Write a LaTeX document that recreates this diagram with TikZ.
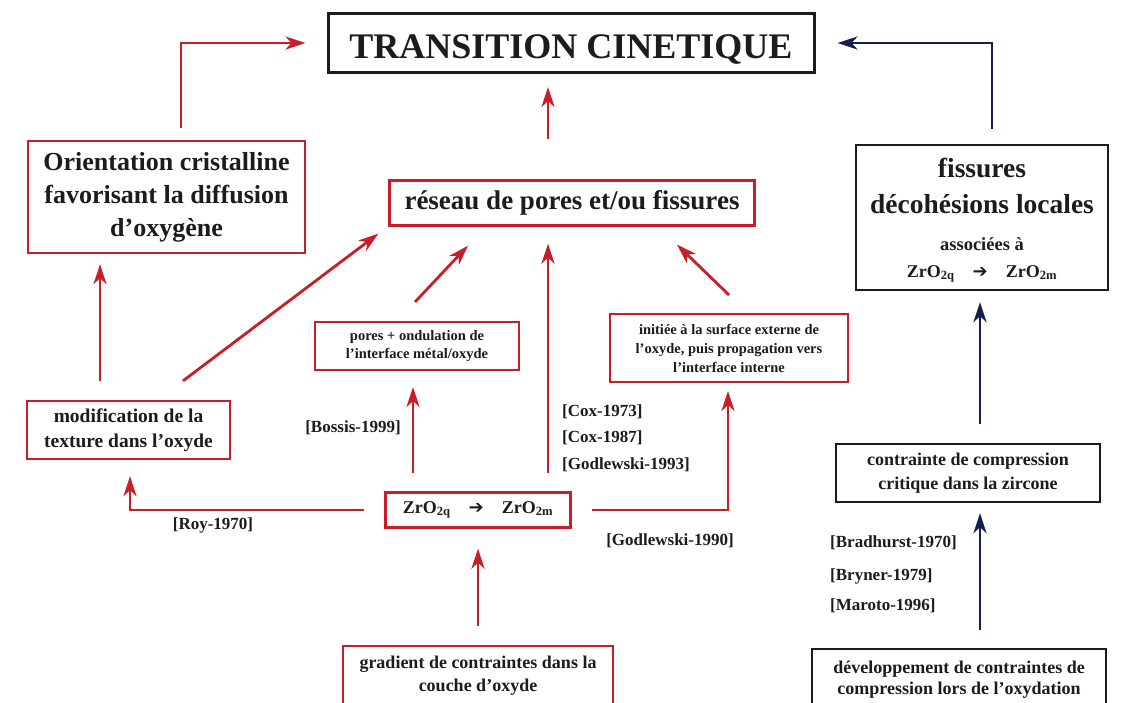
\documentclass[tikz,border=0pt]{standalone}
\usepackage{fontspec}
\setmainfont{Liberation Serif}
\newfontfamily\symfont{DejaVu Sans}
\usetikzlibrary{arrows.meta,calc}
\definecolor{redc}{RGB}{200,30,42}
\definecolor{navyc}{RGB}{22,30,78}
\definecolor{inkc}{RGB}{28,28,28}
\newcommand{\fs}[2]{\fontsize{#1}{#2}\selectfont}
\newcommand{\zrq}{ZrO\textsubscript{2q}}
\newcommand{\zrm}{ZrO\textsubscript{2m}}
\newcommand{\arr}{{\symfont\bfseries ➔}}
\tikzset{
  rbox/.style={draw=redc, line width=2.3pt, align=center, inner sep=0pt, text=inkc},
  kbox/.style={draw=inkc, line width=2.3pt, align=center, inner sep=0pt, text=inkc},
  lab/.style={text=inkc, inner sep=0pt, font=\bfseries\fs{17}{20}},
  ra/.style={draw=redc, line width=2.8pt, -{Stealth[length=20pt,width=13pt,inset=6pt]}},
  ba/.style={draw=navyc, line width=2.8pt, -{Stealth[length=20pt,width=13pt,inset=6pt]}}
}
\begin{document}
\begin{tikzpicture}[x=1pt,y=-1pt]
\useasboundingbox (0,0) rectangle (1124,702);
\fill[white] (0,0) rectangle (1124,702);

% boxes
\node[kbox, line width=3pt, minimum width=486pt, minimum height=59pt, text height=35pt, text depth=5pt, font=\bfseries\fs{36}{40}] (title) at (571,43) {TRANSITION CINETIQUE};
\node[rbox, minimum width=277pt, minimum height=112pt, font=\bfseries\fs{26}{33}] (orient) at (166.5,197) {Orientation cristalline\\favorisant la diffusion\\d’oxygène};
\node[rbox, minimum width=365pt, minimum height=45pt, font=\bfseries\fs{27}{30}] (reseau) at (572,203) {réseau de pores et/ou fissures};
\node[kbox, minimum width=252pt, minimum height=145pt, font=\bfseries\fs{27.5}{36}] (fiss) at (982,217.5) {\rule{0pt}{25pt}fissures\\décohésions locales\\[1pt]{\fs{18.5}{20}associées à}\\[-9pt]{\fs{18}{20}\zrq\quad\arr\quad\zrm}};
\node[rbox, line width=2pt, minimum width=204pt, minimum height=48pt, font=\bfseries\fs{14.5}{18}] (pores) at (417,346) {pores + ondulation de\\l’interface métal/oxyde};
\node[rbox, line width=2pt, minimum width=238pt, minimum height=68pt, font=\bfseries\fs{14.5}{19}] (init) at (729,348) {initiée à la surface externe de\\l’oxyde, puis propagation vers\\l’interface interne};
\node[rbox, minimum width=203pt, minimum height=58pt, font=\bfseries\fs{19.5}{25}] (modif) at (128.5,430) {modification de la\\texture dans l’oxyde};
\node[rbox, minimum width=185pt, minimum height=35pt, font=\bfseries\fs{18}{22}] (zr) at (478,510) {\zrq\quad\arr\quad\zrm};
\node[kbox, minimum width=264pt, minimum height=58pt, font=\bfseries\fs{18}{24}] (contr) at (968,473) {contrainte de compression\\critique dans la zircone};
\begin{scope}
\clip (0,0) rectangle (1124,702);
\node[rbox, minimum width=270pt, minimum height=60pt, font=\bfseries\fs{18}{23}] (grad) at (478,676) {gradient de contraintes dans la\\couche d’oxyde};
\node[kbox, minimum width=294pt, minimum height=62pt, font=\bfseries\fs{18}{21}] (dev) at (959,680) {développement de contraintes de\\compression lors de l’oxydation};
\end{scope}

% labels
\node[lab] (roy) at (213,525) {[Roy-1970]};
\node[lab] (bossis) at (353,428) {[Bossis-1999]};
\node[lab, anchor=west] (cox1) at (562,412) {[Cox-1973]};
\node[lab, anchor=west] (cox2) at (562,438) {[Cox-1987]};
\node[lab, anchor=west] (god93) at (562,465) {[Godlewski-1993]};
\node[lab] (god90) at (670,541) {[Godlewski-1990]};
\node[lab, anchor=west] (brad) at (830,543) {[Bradhurst-1970]};
\node[lab, anchor=west] (bryn) at (830,576) {[Bryner-1979]};
\node[lab, anchor=west] (maro) at (830,606) {[Maroto-1996]};

% arrows
\draw[ra, shorten <=12pt, shorten >=21pt] ([xshift=14.5pt]orient.north) |- (title.west);
\draw[ba, shorten <=15pt, shorten >=22pt] ([xshift=10pt]fiss.north) |- (title.east);
\draw[ra, shorten <=40pt, shorten >=13pt] ([xshift=-24pt]reseau.north) -- ([xshift=-24pt]reseau.north |- title.south);
\draw[ra, shorten <=19pt, shorten >=10pt] ([xshift=-28.5pt]modif.north) -- ([xshift=-28.5pt]modif.north |- orient.south);
\draw[ra] ([xshift=54.5pt,yshift=19pt]modif.north) -- ([xshift=-10pt,yshift=-7pt]reseau.south west);
\draw[ra] ([xshift=-2pt,yshift=19pt]pores.north) -- ([xshift=-104pt,yshift=-19pt]reseau.south);
\draw[ra] ([xshift=70pt,yshift=18pt]zr.north) -- ([xshift=-24pt,yshift=-17pt]reseau.south);
\draw[ra] ([yshift=18pt]init.north) -- ([xshift=105pt,yshift=-18pt]reseau.south);
\draw[ra, shorten >=16pt] ([xshift=-20pt]zr.west) -| ([xshift=1.5pt]modif.south);
\draw[ra] ([xshift=-65pt,yshift=18pt]zr.north) -- ([xshift=-4pt,yshift=-16pt]pores.south);
\draw[ra, shorten >=8pt] ([xshift=20pt]zr.east) -| ([xshift=-1pt]init.south);
\draw[ra] ([yshift=19pt]grad.north) -- ([yshift=-20pt]zr.south);
\draw[ba] ([xshift=21pt,yshift=18pt]dev.north) -- ([xshift=12pt,yshift=-10pt]contr.south);
\draw[ba] ([xshift=12pt,yshift=19pt]contr.north) -- ([xshift=-2pt,yshift=-11pt]fiss.south);
\end{tikzpicture}
\end{document}
